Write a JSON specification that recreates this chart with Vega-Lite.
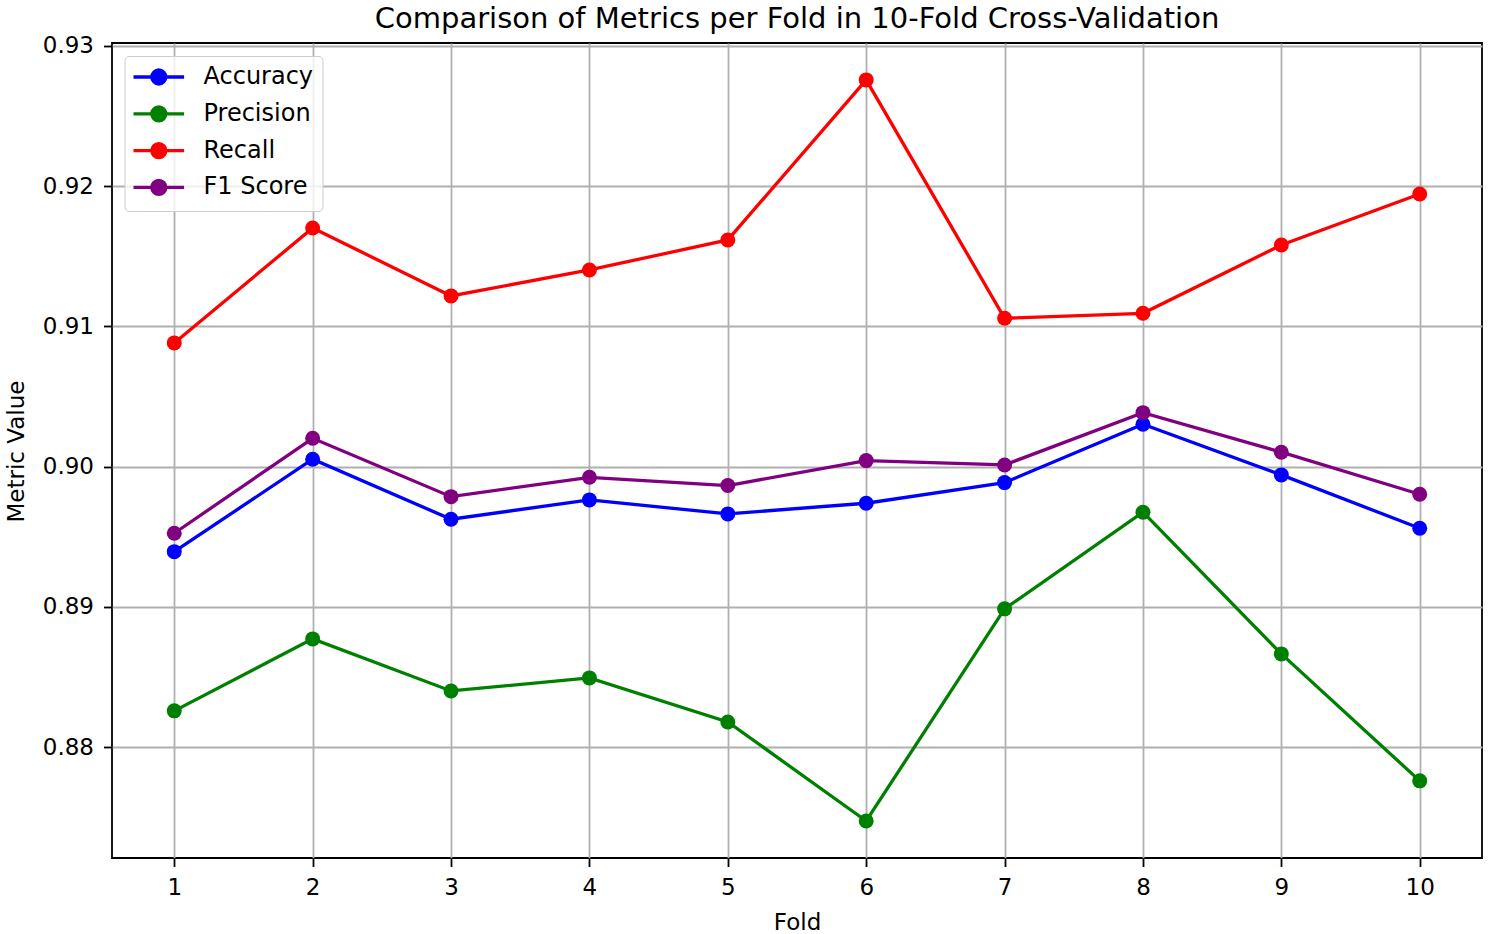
{
  "$schema": "https://vega.github.io/schema/vega-lite/v6.json",
  "width": 1370,
  "height": 815,
  "autosize": "none",
  "padding": {"left": 112, "top": 43, "right": 6, "bottom": 76},
  "background": "white",
  "title": {
    "text": "Comparison of Metrics per Fold in 10-Fold Cross-Validation",
    "frame": "group",
    "anchor": "middle",
    "baseline": "alphabetic",
    "offset": -22,
    "font": "DejaVu Sans",
    "fontSize": 29,
    "fontWeight": "normal",
    "color": "black"
  },
  "config": {
    "view": {"stroke": "black", "strokeWidth": 1.8},
    "axis": {
      "domain": false,
      "grid": true,
      "gridColor": "#b0b0b0",
      "gridWidth": 1.8,
      "tickColor": "black",
      "tickWidth": 1.8,
      "tickSize": 8.5,
      "labelFont": "DejaVu Sans",
      "labelFontSize": 23,
      "labelColor": "black",
      "titleFont": "DejaVu Sans",
      "titleFontSize": 23,
      "titleFontWeight": "normal",
      "titleColor": "black"
    }
  },
  "data": {
    "values": [
      {"fold": 1, "metric": "Accuracy", "value": 0.89394},
      {"fold": 2, "metric": "Accuracy", "value": 0.90053},
      {"fold": 3, "metric": "Accuracy", "value": 0.89625},
      {"fold": 4, "metric": "Accuracy", "value": 0.89763},
      {"fold": 5, "metric": "Accuracy", "value": 0.89663},
      {"fold": 6, "metric": "Accuracy", "value": 0.89739},
      {"fold": 7, "metric": "Accuracy", "value": 0.89886},
      {"fold": 8, "metric": "Accuracy", "value": 0.90302},
      {"fold": 9, "metric": "Accuracy", "value": 0.89941},
      {"fold": 10, "metric": "Accuracy", "value": 0.89561},
      {"fold": 1, "metric": "Precision", "value": 0.88259},
      {"fold": 2, "metric": "Precision", "value": 0.88772},
      {"fold": 3, "metric": "Precision", "value": 0.88401},
      {"fold": 4, "metric": "Precision", "value": 0.88494},
      {"fold": 5, "metric": "Precision", "value": 0.8818},
      {"fold": 6, "metric": "Precision", "value": 0.87474},
      {"fold": 7, "metric": "Precision", "value": 0.88986},
      {"fold": 8, "metric": "Precision", "value": 0.89675},
      {"fold": 9, "metric": "Precision", "value": 0.88665},
      {"fold": 10, "metric": "Precision", "value": 0.8776},
      {"fold": 1, "metric": "Recall", "value": 0.90882},
      {"fold": 2, "metric": "Recall", "value": 0.91701},
      {"fold": 3, "metric": "Recall", "value": 0.91217},
      {"fold": 4, "metric": "Recall", "value": 0.91402},
      {"fold": 5, "metric": "Recall", "value": 0.91616},
      {"fold": 6, "metric": "Recall", "value": 0.92757},
      {"fold": 7, "metric": "Recall", "value": 0.91058},
      {"fold": 8, "metric": "Recall", "value": 0.91093},
      {"fold": 9, "metric": "Recall", "value": 0.9158},
      {"fold": 10, "metric": "Recall", "value": 0.91944},
      {"fold": 1, "metric": "F1 Score", "value": 0.89525},
      {"fold": 2, "metric": "F1 Score", "value": 0.90202},
      {"fold": 3, "metric": "F1 Score", "value": 0.89786},
      {"fold": 4, "metric": "F1 Score", "value": 0.89924},
      {"fold": 5, "metric": "F1 Score", "value": 0.89865},
      {"fold": 6, "metric": "F1 Score", "value": 0.90043},
      {"fold": 7, "metric": "F1 Score", "value": 0.90012},
      {"fold": 8, "metric": "F1 Score", "value": 0.90385},
      {"fold": 9, "metric": "F1 Score", "value": 0.90103},
      {"fold": 10, "metric": "F1 Score", "value": 0.89803}
    ]
  },
  "mark": {
    "type": "line",
    "strokeWidth": 3.3,
    "point": {"filled": true, "size": 225, "opacity": 1}
  },
  "encoding": {
    "x": {
      "field": "fold",
      "type": "quantitative",
      "title": "Fold",
      "scale": {"domain": [0.55, 10.45], "nice": false, "zero": false},
      "axis": {
        "values": [1, 2, 3, 4, 5, 6, 7, 8, 9, 10],
        "format": "d",
        "labelBaseline": "alphabetic",
        "labelPadding": 28,
        "labelFlush": false,
        "labelOverlap": false,
        "titleY": 71,
        "titleBaseline": "alphabetic"
      }
    },
    "y": {
      "field": "value",
      "type": "quantitative",
      "title": "Metric Value",
      "scale": {"domain": [0.8721, 0.9302], "nice": false, "zero": false},
      "axis": {
        "values": [0.88, 0.89, 0.9, 0.91, 0.92, 0.93],
        "format": ".2f",
        "labelPadding": 10,
        "labelFlush": false,
        "labelOverlap": false,
        "titleX": -89,
        "titleY": 408,
        "titleAngle": -90,
        "titleBaseline": "alphabetic",
        "titleAlign": "center"
      }
    },
    "color": {
      "field": "metric",
      "type": "nominal",
      "sort": ["Accuracy", "Precision", "Recall", "F1 Score"],
      "scale": {
        "domain": ["Accuracy", "Precision", "Recall", "F1 Score"],
        "range": ["#0000ff", "#008000", "#ff0000", "#800080"]
      },
      "legend": {
        "title": null,
        "orient": "none",
        "legendX": 12.5,
        "legendY": 13,
        "padding": 9,
        "fillColor": "rgba(255,255,255,0.8)",
        "strokeColor": "#cccccc",
        "cornerRadius": 4,
        "symbolType": "M-1.2,0H3.86M0.63,0A0.7,0.7,0,1,0,2.03,0A0.7,0.7,0,1,0,0.63,0Z",
        "symbolSize": 400,
        "symbolStrokeWidth": 3.3,
        "labelFont": "DejaVu Sans",
        "labelFontSize": 24,
        "labelColor": "black",
        "labelOffset": 46,
        "rowPadding": 8.8,
        "encode": {
          "symbols": {
            "update": {
              "fill": {"scale": "color", "field": "value"},
              "stroke": {"scale": "color", "field": "value"},
              "opacity": {"value": 1}
            }
          }
        }
      }
    }
  }
}
